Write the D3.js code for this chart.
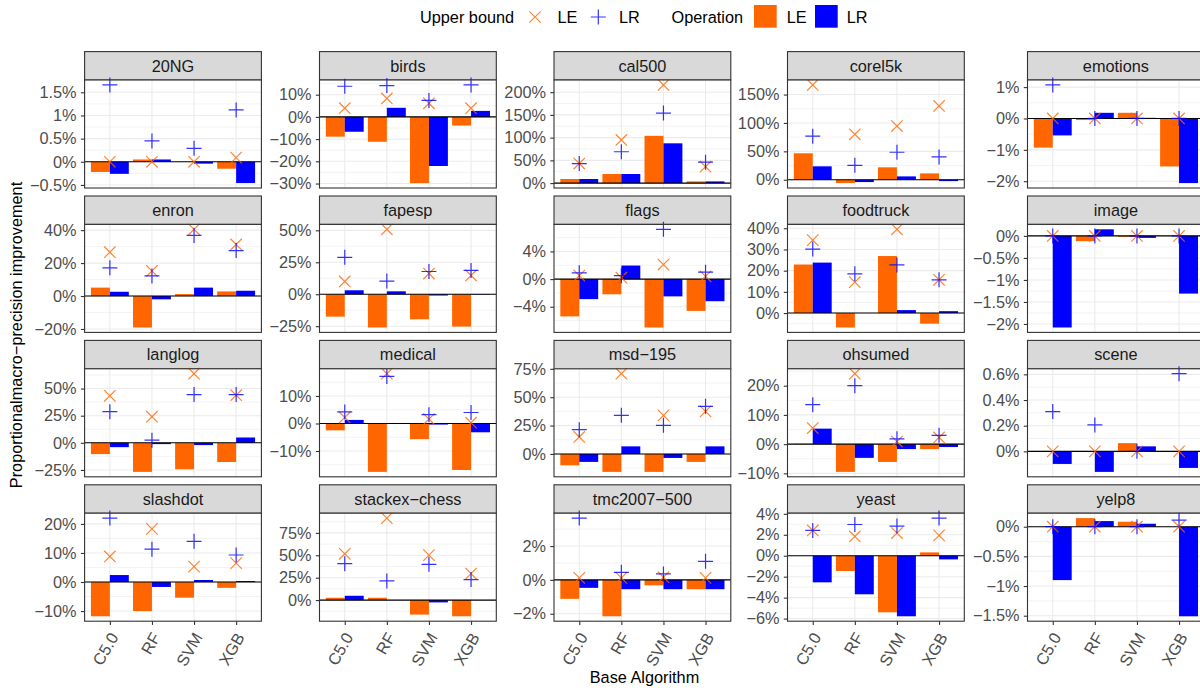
<!DOCTYPE html>
<html>
<head>
<meta charset="utf-8">
<script src="https://cdn.jsdelivr.net/npm/d3@7"></script>
<style>
body { margin: 0; background: #fff; }
svg { font-family: "Liberation Sans", Arial, sans-serif; display: block; }
</style>
</head>
<body>
<div id="chart"></div>
<script>
// data (percent), algorithm order: C5.0, RF, SVM, XGB
const datasets = ["20NG", "birds", "cal500", "corel5k", "emotions",
                  "enron", "fapesp", "flags", "foodtruck", "image",
                  "langlog", "medical", "msd\u2212195", "ohsumed", "scene",
                  "slashdot", "stackex\u2212chess", "tmc2007\u2212500", "yeast", "yelp8"];
const algorithms = ["C5.0", "RF", "SVM", "XGB"];

const operationLE = [
    [-0.22, 0.05, 0, -0.15], [-8.9, -11.2, -29.8, -3.9], [9, 20, 104, 3.7], [46.6, -5.9, 21.9, 11.2], [-0.93, -0.05, 0.18, -1.53],
    [5.1, -19.1, 1.2, 2.8], [-17.5, -26, -19.6, -25.3], [-5.4, -2.2, -7.0, -4.6], [22.9, -6.8, 26.9, -5], [0, -0.12, -0.02, 0],
    [-10.4, -26.8, -24.4, -17.7], [-2.5, -17.6, -5.7, -16.9], [-10, -15.8, -15.8, -7], [0.1, -9.5, -6.1, -1.7], [0, 0, 0.064, 0],
    [-11.8, -10, -5.4, -2], [2.6, 2.6, -16.2, -18.1], [-1.12, -2.15, -0.32, -0.55], [0, -1.46, -5.4, 0.32], [0, 0.145, 0.084, 0]
];
const operationLR = [
    [-0.26, 0.05, -0.04, -0.46], [-6.7, 4.1, -22.1, 2.7], [9, 20, 87.5, 3.7], [23.6, -4.1, 5.9, -2.4], [-0.54, 0.18, 0.02, -2.06],
    [2.6, -2.0, 5.1, 3.2], [3.1, 2.3, -1.0, -0.3], [-2.9, 1.96, -2.5, -3.2], [23.8, 0, 1.4, 0.9], [-2.08, 0.15, -0.045, -1.31],
    [-4, -1.2, -2.1, 4.9], [1.3, 0, -0.4, -3.2], [-7, 6.7, -3.5, 6.7], [5.3, -4.7, -1.7, -1.0], [-0.098, -0.16, 0.039, -0.129],
    [2.4, -1.7, 0.7, 0.35], [4.8, 0, -2.6, 0], [-0.47, -0.55, -0.55, -0.55], [-2.54, -3.68, -5.78, -0.35], [-0.9, 0.095, 0.05, -1.51]
];
const upperLE = [
    [0, 0, 0, 0.09], [3.9, 8.3, 6.1, 3.9], [43, 95, 216, 36], [167, 80, 94.5, 130], [0, 0, 0, 0],
    [26.6, 15.2, 40.5, 31.3], [10, 50.8, 16.2, 14.7], [0.5, 0.2, 2.1, 0.4], [34.4, 14.6, 39.5, 15.7], [0, 0, 0, 0],
    [43.3, 24.1, 63.7, 43.9], [2.2, 18.1, 1.6, 0.3], [15, 70.7, 34, 37.5], [5.5, 24.1, 0.9, 2.3], [0, 0, 0, 0],
    [8.8, 18.3, 5.3, 6.5], [51.7, 91.5, 50.2, 29.5], [0.12, 0.12, 0.16, 0.12], [2.41, 1.84, 2.16, 1.94], [0, 0, 0, 0]
];
const upperLR = [
    [1.66, 0.45, 0.29, 1.12], [13.8, 14.1, 7.4, 14.4], [43, 69, 154, 46], [76.8, 25.4, 48.4, 40.2], [1.07, 0, 0, 0],
    [17.1, 12.2, 36.8, 27.6], [28.9, 10.3, 17.8, 18.6], [0.9, 0.5, 7.2, 1.0], [30.2, 18.5, 22.7, 15.7], [0, 0, 0, 0],
    [28.7, 2.4, 44.5, 44.5], [4.2, 17.1, 3.2, 4.0], [21.4, 34, 25.2, 42], [13.5, 20, 1.8, 3.0], [0.31, 0.206, 0, 0.605],
    [22, 11.3, 14, 9.3], [40.6, 21.4, 39.9, 22.9], [3.65, 0.45, 0.35, 1.1], [2.41, 2.98, 2.83, 3.59], [0, 0, 0, 0.11]
];
const yTicks = [
    [-0.5, 0, 0.5, 1, 1.5], [-30, -20, -10, 0, 10], [0, 50, 100, 150, 200], [0, 50, 100, 150], [-2, -1, 0, 1],
    [-20, 0, 20, 40], [-25, 0, 25, 50], [-4, 0, 4], [0, 10, 20, 30, 40], [-2, -1.5, -1, -0.5, 0],
    [-25, 0, 25, 50], [-10, 0, 10], [0, 25, 50, 75], [-10, 0, 10, 20], [0, 0.2, 0.4, 0.6],
    [-10, 0, 10, 20], [0, 25, 50, 75], [-2, 0, 2], [-6, -4, -2, 0, 2, 4], [-1.5, -1, -0.5, 0]
];

const colorLE = "#ff6600", colorLR = "#0000ff";
const width = 1200, height = 688;
const colLeft = [84.6, 319.5, 554, 787.5, 1027.5];
const panelW = 176.8, panelH = 108, stripH = 28.4, stripTop = 51.6, rowStep = 144.4;
const fontSize = "16.3px";

const fmt = v => (v < 0 ? "\u2212" : "") + Math.abs(v) + "%";

const svg = d3.select("#chart").append("svg")
    .attr("width", width)
    .attr("height", height);

// stroke symbols: plus arm 7.5px, times half-extent 5.7px
const plusSym = d3.symbol(d3.symbolPlus, Math.pow(7.5 / 0.87559, 2) + 2)();
const timesSym = d3.symbol(d3.symbolTimes, Math.pow(5.7 / 0.6189, 2) + 1.7)();

datasets.forEach((name, i) => {
    const col = i % 5, row = Math.floor(i / 5);
    const g = svg.append("g")
        .attr("transform", `translate(${colLeft[col]},${stripTop + row * rowStep})`);

    // strip
    g.append("rect")
        .attr("width", panelW).attr("height", stripH)
        .attr("fill", "#d9d9d9").attr("stroke", "#333").attr("stroke-width", 1.1);
    g.append("text")
        .attr("x", panelW / 2).attr("y", stripH / 2).attr("dy", "0.36em")
        .attr("text-anchor", "middle").attr("fill", "#1a1a1a")
        .style("font-size", fontSize)
        .text(name);

    const p = g.append("g").attr("transform", `translate(0,${stripH})`);

    const all = [0].concat(operationLE[i], operationLR[i], upperLE[i], upperLR[i]);
    const [lo, hi] = d3.extent(all);
    const pad = (hi - lo) * 0.05;
    const y = d3.scaleLinear().domain([lo - pad, hi + pad]).range([panelH, 0]);
    const x = d3.scalePoint().domain(algorithms).range([0, panelW]).padding(0.6);
    const bw = x.step() * 0.45;

    p.append("rect").attr("width", panelW).attr("height", panelH).attr("fill", "#fff");

    // grid lines
    const ticks = yTicks[i];
    const st = ticks[1] - ticks[0];
    const minor = d3.range(-1, ticks.length).map(k => ticks[0] + (k + 0.5) * st)
        .filter(v => v >= lo - pad && v <= hi + pad);
    p.append("g").selectAll("line").data(minor).join("line")
        .attr("x1", 0).attr("x2", panelW)
        .attr("y1", d => y(d)).attr("y2", d => y(d))
        .attr("stroke", "#ebebeb").attr("stroke-width", 0.6);
    p.append("g").selectAll("line").data(ticks).join("line")
        .attr("x1", 0).attr("x2", panelW)
        .attr("y1", d => y(d)).attr("y2", d => y(d))
        .attr("stroke", "#ebebeb").attr("stroke-width", 1.1);
    p.append("g").selectAll("line").data(algorithms).join("line")
        .attr("x1", d => x(d)).attr("x2", d => x(d))
        .attr("y1", 0).attr("y2", panelH)
        .attr("stroke", "#ebebeb").attr("stroke-width", 1.1);

    // bars
    const bars = algorithms.map((a, j) => ({a, le: operationLE[i][j], lr: operationLR[i][j]}));
    p.append("g").selectAll("rect").data(bars).join("rect")
        .attr("x", d => x(d.a) - bw).attr("width", bw)
        .attr("y", d => y(Math.max(d.le, 0)))
        .attr("height", d => Math.abs(y(d.le) - y(0)))
        .attr("fill", colorLE);
    p.append("g").selectAll("rect").data(bars).join("rect")
        .attr("x", d => x(d.a)).attr("width", bw)
        .attr("y", d => y(Math.max(d.lr, 0)))
        .attr("height", d => Math.abs(y(d.lr) - y(0)))
        .attr("fill", colorLR);

    // zero line
    p.append("line")
        .attr("x1", 0).attr("x2", panelW)
        .attr("y1", y(0)).attr("y2", y(0))
        .attr("stroke", "#000").attr("stroke-width", 1.1);

    // upper bound points
    p.append("g").selectAll("path").data(algorithms).join("path")
        .attr("transform", (d, j) => `translate(${x(d)},${y(upperLE[i][j])})`)
        .attr("d", timesSym)
        .attr("fill", "none").attr("stroke", colorLE).attr("stroke-width", 1.2).attr("stroke-opacity", 0.8);
    p.append("g").selectAll("path").data(algorithms).join("path")
        .attr("transform", (d, j) => `translate(${x(d)},${y(upperLR[i][j])})`)
        .attr("d", plusSym)
        .attr("fill", "none").attr("stroke", colorLR).attr("stroke-width", 1.2).attr("stroke-opacity", 0.8);

    // panel border
    p.append("rect")
        .attr("width", panelW).attr("height", panelH)
        .attr("fill", "none").attr("stroke", "#333").attr("stroke-width", 1.1);

    // y axis
    const ya = p.append("g")
        .call(d3.axisLeft(y).tickValues(ticks).tickFormat(fmt).tickSize(3.7).tickPadding(4.3));
    ya.select(".domain").remove();
    ya.selectAll("line").attr("stroke", "#333").attr("stroke-width", 1.1);
    ya.selectAll("text").attr("fill", "#4d4d4d").style("font-size", fontSize).attr("font-family", null);

    // x axis (bottom row only)
    if (row === 3) {
        const xa = p.append("g")
            .attr("transform", `translate(0,${panelH})`)
            .call(d3.axisBottom(x).tickSize(3.7));
        xa.select(".domain").remove();
        xa.selectAll("line").attr("stroke", "#333").attr("stroke-width", 1.1);
        xa.selectAll("text")
            .attr("fill", "#4d4d4d").style("font-size", fontSize).attr("font-family", null)
            .attr("text-anchor", "end")
            .attr("x", 0).attr("y", 0).attr("dy", null)
            .attr("transform", "translate(8.6,15.8) rotate(-60)");
    }
});

// axis titles
svg.append("text")
    .attr("x", 644.5).attr("y", 682.5)
    .attr("text-anchor", "middle").style("font-size", fontSize)
    .text("Base Algorithm");
svg.append("text")
    .attr("transform", "translate(21.5,335) rotate(-90)")
    .attr("text-anchor", "middle").style("font-size", fontSize)
    .text("Proportionalmacro\u2212precision improvement");

// legend
const lg = svg.append("g");
lg.append("text").attr("x", 420).attr("y", 23).style("font-size", fontSize).text("Upper bound");
lg.append("path").attr("transform", "translate(535,17)").attr("d", timesSym)
    .attr("fill", "none").attr("stroke", colorLE).attr("stroke-width", 1.2).attr("stroke-opacity", 0.8);
lg.append("text").attr("x", 557.5).attr("y", 23).style("font-size", fontSize).text("LE");
lg.append("path").attr("transform", "translate(598.3,17)").attr("d", plusSym)
    .attr("fill", "none").attr("stroke", colorLR).attr("stroke-width", 1.2).attr("stroke-opacity", 0.8);
lg.append("text").attr("x", 619).attr("y", 23).style("font-size", fontSize).text("LR");
lg.append("text").attr("x", 671.5).attr("y", 23).style("font-size", fontSize).text("Operation");
lg.append("rect").attr("x", 754).attr("y", 5).attr("width", 22.7).attr("height", 22.7).attr("fill", colorLE);
lg.append("text").attr("x", 786.7).attr("y", 23).style("font-size", fontSize).text("LE");
lg.append("rect").attr("x", 815).attr("y", 5).attr("width", 22.7).attr("height", 22.7).attr("fill", colorLR);
lg.append("text").attr("x", 846.7).attr("y", 23).style("font-size", fontSize).text("LR");
</script>
</body>
</html>
